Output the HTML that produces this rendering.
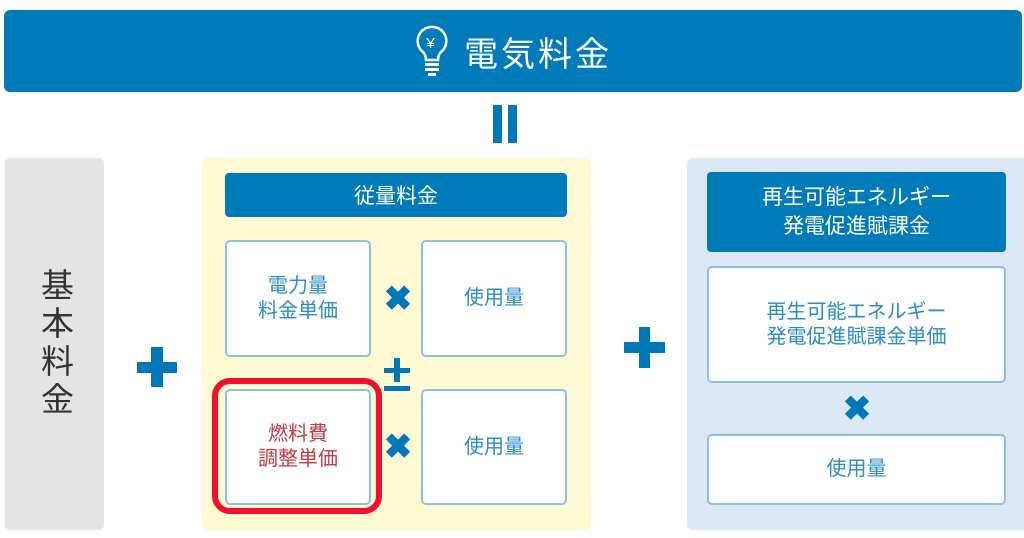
<!DOCTYPE html>
<html><head><meta charset="utf-8"><style>
*{margin:0;padding:0;box-sizing:border-box}
body{width:1024px;height:538px;background:#fff;position:relative;overflow:hidden;font-family:"Liberation Sans","Noto Sans CJK JP",sans-serif}
.a{position:absolute}
.c{display:flex;align-items:center;justify-content:center;text-align:center}
.box{background:#fff;border:2px solid #8cc0dc;border-radius:5px;color:#2a8cc6;font-size:20px;line-height:25px}
.dark{background:#007bba;color:#fff;border-radius:4px}
.x{color:#0078b8;font-size:34px;font-weight:bold;line-height:1}
</style></head><body>
<div class="a c dark" style="left:4px;top:10px;width:1018px;height:82px;border-radius:6px;font-size:34px;letter-spacing:3px">
<svg width="36" height="54" viewBox="0 0 36 54" style="margin-right:14px"><path d="M18 3a14 14 0 0 0-9 25c2 2 3 5 3 8h12c0-3 1-6 3-8a14 14 0 0 0-9-25z" fill="none" stroke="#fff" stroke-width="2.5"/><text x="18" y="24" font-size="15" fill="#fff" text-anchor="middle" font-family="Liberation Sans">¥</text><rect x="11" y="39" width="14" height="3" fill="#fff"/><rect x="11" y="44" width="14" height="3" fill="#fff"/><rect x="14" y="49" width="8" height="3" rx="1" fill="#fff"/></svg>電気料金</div>
<div class="a" style="left:493px;top:105px;width:9px;height:38px;background:#0078b8"></div>
<div class="a" style="left:508px;top:105px;width:9px;height:38px;background:#0078b8"></div>
<div class="a c" style="left:5px;top:158px;width:99px;height:372px;background:#e4e4e4;border-radius:5px;font-size:33px;line-height:40px;letter-spacing:5px;color:#333;writing-mode:vertical-rl">基本料金</div>
<div class="a" style="left:137px;top:362px;width:40px;height:11px;background:#0078b8"></div>
<div class="a" style="left:151px;top:347px;width:12px;height:40px;background:#0078b8"></div>
<div class="a" style="left:202px;top:158px;width:389px;height:372px;background:#fdf9d2;border-radius:5px"></div>
<div class="a c dark" style="left:225px;top:173px;width:342px;height:44px;font-size:21px">従量料金</div>
<div class="a c box" style="left:225px;top:240px;width:146px;height:117px">電力量<br>料金単価</div>
<div class="a c box" style="left:421px;top:240px;width:146px;height:117px">使用量</div>
<div class="a c box" style="left:225px;top:389px;width:146px;height:116px;color:#c23b40">燃料費<br>調整単価</div>
<div class="a c box" style="left:421px;top:389px;width:146px;height:116px">使用量</div>
<div class="a" style="left:212px;top:378px;width:170px;height:136px;border:6px solid #f0102c;border-radius:18px"></div>
<div class="a c x" style="left:378px;top:282px;width:40px;height:34px">✖</div>
<div class="a c x" style="left:378px;top:430px;width:40px;height:34px">✖</div>
<div class="a" style="left:384px;top:368px;width:26px;height:5px;background:#0078b8"></div>
<div class="a" style="left:394px;top:358px;width:6px;height:24px;background:#0078b8"></div>
<div class="a" style="left:384px;top:386px;width:26px;height:5px;background:#0078b8"></div>
<div class="a" style="left:624px;top:342px;width:41px;height:11px;background:#0078b8"></div>
<div class="a" style="left:639px;top:327px;width:11px;height:41px;background:#0078b8"></div>
<div class="a" style="left:687px;top:158px;width:340px;height:372px;background:#dce8f5;border-radius:5px"></div>
<div class="a c dark" style="left:707px;top:172px;width:299px;height:80px;font-size:21px;line-height:29px">再生可能エネルギー<br>発電促進賦課金</div>
<div class="a c box" style="left:707px;top:266px;width:299px;height:117px">再生可能エネルギー<br>発電促進賦課金単価</div>
<div class="a c x" style="left:837px;top:392px;width:40px;height:34px">✖</div>
<div class="a c box" style="left:707px;top:434px;width:299px;height:71px">使用量</div>
</body></html>
